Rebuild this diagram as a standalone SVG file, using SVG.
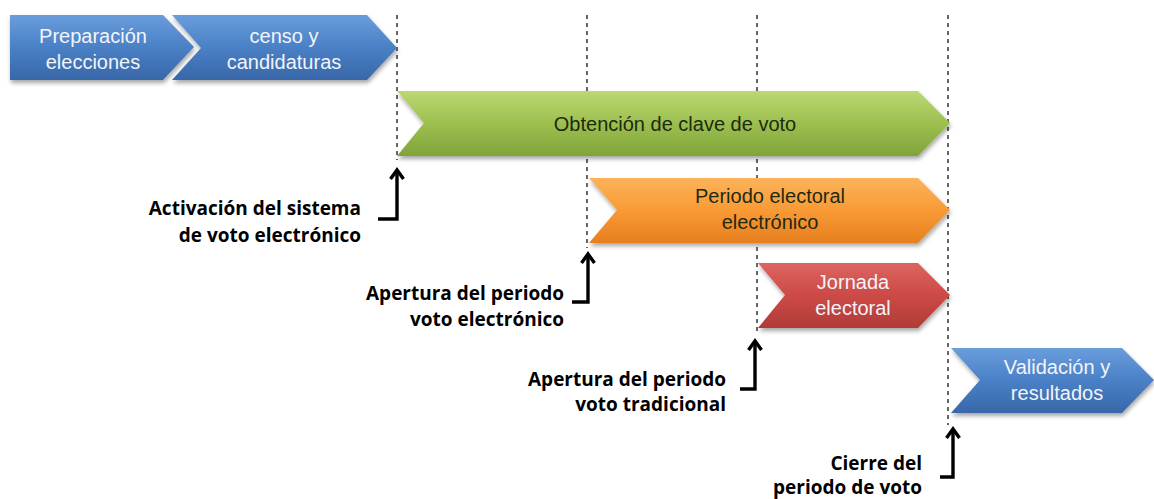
<svg xmlns="http://www.w3.org/2000/svg" width="1154" height="499" viewBox="0 0 1154 499">
<defs>
<linearGradient id="gBlue" x1="0" y1="0" x2="0" y2="1"><stop offset="0" stop-color="#6a9ddc"/><stop offset="0.5" stop-color="#4a80c6"/><stop offset="1" stop-color="#3867a8"/></linearGradient>
<linearGradient id="gGreen" x1="0" y1="0" x2="0" y2="1"><stop offset="0" stop-color="#bcd873"/><stop offset="0.5" stop-color="#9cbf4f"/><stop offset="1" stop-color="#7fa43a"/></linearGradient>
<linearGradient id="gOrange" x1="0" y1="0" x2="0" y2="1"><stop offset="0" stop-color="#fcb35a"/><stop offset="0.5" stop-color="#f99a35"/><stop offset="1" stop-color="#e67f1f"/></linearGradient>
<linearGradient id="gRed" x1="0" y1="0" x2="0" y2="1"><stop offset="0" stop-color="#de6460"/><stop offset="0.5" stop-color="#cc4a46"/><stop offset="1" stop-color="#b13a37"/></linearGradient>
<filter id="sh" x="-5%" y="-10%" width="110%" height="130%"><feDropShadow dx="1" dy="3" stdDeviation="2" flood-color="#000" flood-opacity="0.35"/></filter>
<marker id="ah" markerWidth="16" markerHeight="16" refX="12" refY="8" orient="auto" markerUnits="userSpaceOnUse" viewBox="0 0 16 16"><polyline points="3,1.5 12,8 3,14.5" fill="none" stroke="#000" stroke-width="3.4"/></marker>
</defs>
<style>
.lt{font-family:"Liberation Sans",Arial,sans-serif;font-size:20px;fill:#f2f4fa;text-anchor:middle}
.dk{font-family:"Liberation Sans",Arial,sans-serif;font-size:20px;fill:#1e2a10;text-anchor:middle}
.lb{font-family:"Open Sans","Liberation Sans",sans-serif;font-weight:bold;font-size:19px;fill:#000;text-anchor:end}
.dash{stroke:#000;stroke-width:1.2;stroke-dasharray:4 4;fill:none}
.arr{stroke:#000;stroke-width:3.4;fill:none}
</style>
<g id="connectors">
<line class="dash" x1="397" y1="15" x2="397" y2="160"/>
<line class="dash" x1="587" y1="15" x2="587" y2="248"/>
<line class="dash" x1="757" y1="15" x2="757" y2="333"/>
<line class="dash" x1="948" y1="15" x2="948" y2="425"/>
<polyline class="arr" points="378,219 397,219 397,170" marker-end="url(#ah)"/>
<polyline class="arr" points="572,302 588,302 588,254" marker-end="url(#ah)"/>
<polyline class="arr" points="740,389 755,389 755,341" marker-end="url(#ah)"/>
<polyline class="arr" points="940,477 953,477 953,429" marker-end="url(#ah)"/>
</g>
<g id="n-preparacion">
<polygon points="10,15 163,15 194,47 163,80 10,80" fill="url(#gBlue)" filter="url(#sh)"/>
<text class="lt" x="93" y="43">Preparación</text>
<text class="lt" x="93" y="69">elecciones</text>
</g>
<g id="n-censo">
<polygon points="172,15 367,15 397,48 367,80 172,80 201,48" fill="url(#gBlue)" filter="url(#sh)"/>
<text class="lt" x="284" y="43">censo y</text>
<text class="lt" x="284" y="69">candidaturas</text>
</g>
<g id="n-obtencion">
<polygon points="397,91 918,91 950,123 918,156 397,156 424,123" fill="url(#gGreen)" filter="url(#sh)"/>
<text class="dk" x="675" y="131">Obtención de clave de voto</text>
</g>
<g id="n-periodo">
<polygon points="589,178 918,178 950,210 918,243 589,243 617,210" fill="url(#gOrange)" filter="url(#sh)"/>
<text class="dk" x="770" y="203">Periodo electoral</text>
<text class="dk" x="770" y="229">electrónico</text>
</g>
<g id="n-jornada">
<polygon points="758,263 918,263 950,295 918,328 758,328 785,295" fill="url(#gRed)" filter="url(#sh)"/>
<text class="lt" x="853" y="289">Jornada</text>
<text class="lt" x="853" y="315">electoral</text>
</g>
<g id="n-validacion">
<polygon points="951,348 1122,348 1154,380 1122,413 951,413 980,380" fill="url(#gBlue)" filter="url(#sh)"/>
<text class="lt" x="1057" y="374">Validación y</text>
<text class="lt" x="1057" y="400">resultados</text>
</g>
<g id="l-activacion">
<text class="lb" x="361" y="215">Activación del sistema</text>
<text class="lb" x="361" y="242">de voto electrónico</text>
</g>
<g id="l-apertura-e">
<text class="lb" x="564" y="300">Apertura del periodo</text>
<text class="lb" x="564" y="326">voto electrónico</text>
</g>
<g id="l-apertura-t">
<text class="lb" x="726" y="386">Apertura del periodo</text>
<text class="lb" x="726" y="411">voto tradicional</text>
</g>
<g id="l-cierre">
<text class="lb" x="922" y="470">Cierre del</text>
<text class="lb" x="922" y="494">periodo de voto</text>
</g>
</svg>
